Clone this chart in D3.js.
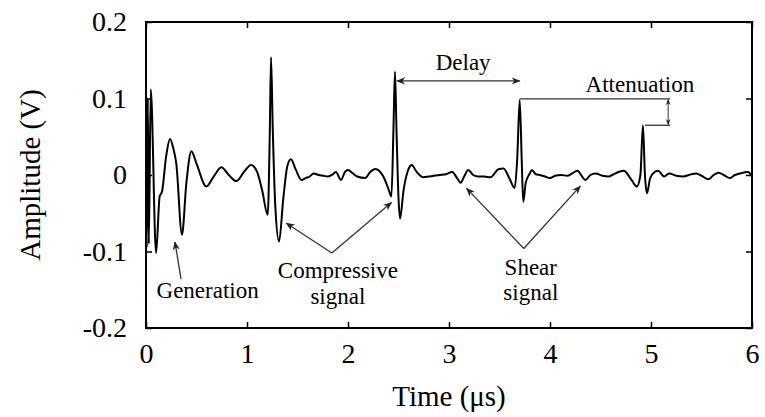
<!DOCTYPE html>
<html>
<head>
<meta charset="utf-8">
<script src="https://cdn.jsdelivr.net/npm/d3@7"></script>
<style>
  body { margin: 0; background: #fff; }
  text { font-family: "Liberation Serif", "Times New Roman", serif; }
</style>
</head>
<body>
<svg width="765" height="417"></svg>
<script>

// signal: time (us), amplitude (V)
var times = [0, 0.008, 0.018, 0.028, 0.047, 0.10, 0.135, 0.158, 0.20, 0.238, 0.27, 0.30, 0.356, 0.40, 0.449, 0.50,
    0.597, 0.67, 0.746, 0.82, 0.894, 0.97, 1.04, 1.10, 1.15, 1.205, 1.225, 1.238, 1.255, 1.28, 1.317, 1.36,
    1.40, 1.435, 1.48, 1.54, 1.58, 1.62, 1.66, 1.71, 1.76, 1.80, 1.85, 1.88, 1.93, 1.97, 2.00, 2.05, 2.09,
    2.17, 2.22, 2.27, 2.35, 2.40, 2.43, 2.45, 2.465, 2.48, 2.50, 2.515, 2.55, 2.60, 2.63, 2.68, 2.745, 2.80,
    2.85, 2.91, 2.97, 3.03, 3.08, 3.115, 3.15, 3.19, 3.24, 3.29, 3.35, 3.41, 3.49, 3.54, 3.60, 3.65, 3.675,
    3.70, 3.72, 3.735, 3.76, 3.80, 3.82, 3.86, 3.90, 3.95, 4.00, 4.05, 4.11, 4.17, 4.22, 4.27, 4.35, 4.40,
    4.45, 4.52, 4.58, 4.63, 4.68, 4.73, 4.80, 4.86, 4.895, 4.92, 4.94, 4.96, 4.99, 5.02, 5.07, 5.13, 5.18,
    5.25, 5.32, 5.40, 5.45, 5.50, 5.57, 5.62, 5.67, 5.72, 5.78, 5.83, 5.88, 5.96, 6.0];
var amps = [0, -0.095, 0.10, -0.09, 0.112, -0.102, -0.028, -0.022, 0.025, 0.047, 0.035, 0.015, -0.078, -0.01, 0.031, 0.015,
    -0.015, -0.002, 0.010, 0.0, -0.008, 0.004, 0.013, 0.004, -0.02, -0.052, 0.05, 0.154, 0.06, -0.04, -0.087, -0.03,
    0.012, 0.0205, 0.008, -0.0065, -0.004, -0.002, 0.002, 0, -0.001, -0.002, 0.001, 0.004, -0.0065, 0.004, 0.0065, 0.002, -0.002,
    -0.004, 0.004, 0.008, -0.002, -0.018, -0.028, 0.06, 0.135, 0.06, -0.03, -0.057, -0.02, 0.008, 0.013, 0.004, -0.003, -0.002,
    -0.001, 0, 0.001, 0.004, -0.004, -0.01, -0.002, 0.0065, 0.0, -0.002, -0.002, -0.003, 0.0075, 0.0085, -0.005, -0.017, 0.02,
    0.098, 0.02, -0.035, -0.01, 0.002, 0.0065, 0.001, 0, -0.002, -0.004, -0.001, 0, -0.001, 0.002, 0.0056, -0.0065, 0.0,
    0.002, -0.001, -0.002, 0.001, 0.004, 0.0056, -0.005, -0.015, 0.0, 0.065, 0.0, -0.024, -0.005, 0.002, 0.0056, -0.002, 0.002,
    -0.001, -0.002, 0.001, 0.002, -0.001, -0.0056, 0.0, 0.003, 0.0, -0.004, 0.0, 0.002, 0.004, -0.002];

var xTicks = [0, 1, 2, 3, 4, 5, 6];
var yTicks = [-0.2, -0.1, 0, 0.1, 0.2];
var yTickLabels = ["-0.2", "-0.1", "0", "0.1", "0.2"];

// annotation labels, in data coordinates
var labels = [
    {text: "Generation", t: 0.61, v: -0.161},
    {text: "Compressive", t: 1.90, v: -0.134},
    {text: "signal", t: 1.90, v: -0.168},
    {text: "Shear", t: 3.81, v: -0.131},
    {text: "signal", t: 3.81, v: -0.164},
    {text: "Delay", t: 3.14, v: 0.137},
    {text: "Attenuation", t: 4.89, v: 0.108}
];
// pointer lines (polylines in data coords)
var pointers = [
    [[0.347, -0.136], [0.287, -0.0876]],
    [[1.84, -0.102], [1.39, -0.063]],
    [[1.84, -0.102], [2.43, -0.036]],
    [[3.74, -0.096], [3.175, -0.0175]],
    [[3.74, -0.096], [4.30, -0.0145]]
];

var svg = d3.select("svg"),
    margin = {top: 22, right: 13, bottom: 89, left: 146},
    width = +svg.attr("width") - margin.left - margin.right,
    height = +svg.attr("height") - margin.top - margin.bottom;

var x = d3.scaleLinear().domain([0, 6]).range([0, width]),
    y = d3.scaleLinear().domain([-0.2, 0.2]).range([height, 0]);

var defs = svg.append("defs");
defs.append("marker")
    .attr("id", "head")
    .attr("viewBox", "0 0 10 10")
    .attr("refX", 9).attr("refY", 5)
    .attr("markerWidth", 9).attr("markerHeight", 9)
    .attr("markerUnits", "userSpaceOnUse")
    .attr("orient", "auto-start-reverse")
    .append("path")
    .attr("d", "M0,1 L10,5 L0,9 L3,5 Z")
    .attr("fill", "#222");
defs.append("marker")
    .attr("id", "small")
    .attr("viewBox", "0 0 10 10")
    .attr("refX", 9).attr("refY", 5)
    .attr("markerWidth", 6).attr("markerHeight", 6)
    .attr("markerUnits", "userSpaceOnUse")
    .attr("orient", "auto-start-reverse")
    .append("path")
    .attr("d", "M0,1 L10,5 L0,9 L3,5 Z")
    .attr("fill", "#222");

var g = svg.append("g")
    .attr("transform", "translate(" + margin.left + "," + margin.top + ")");

// axes with inward ticks
g.append("g")
    .attr("transform", "translate(0," + height + ")")
    .call(d3.axisBottom(x).tickValues(xTicks).tickSizeInner(-6).tickSizeOuter(0).tickPadding(15)
        .tickFormat(d3.format("d")));
g.append("g")
    .call(d3.axisLeft(y).tickValues(yTicks).tickSizeInner(-6).tickSizeOuter(0).tickPadding(19)
        .tickFormat(function(d, i) { return yTickLabels[i]; }));
g.append("g")
    .call(d3.axisTop(x).tickValues(xTicks).tickSizeInner(-6).tickSizeOuter(0).tickFormat(""));
g.append("g")
    .attr("transform", "translate(" + width + ",0)")
    .call(d3.axisRight(y).tickValues(yTicks).tickSizeInner(-6).tickSizeOuter(0).tickFormat(""));

g.selectAll(".domain").remove();
g.selectAll(".tick line").attr("stroke", "#000").attr("stroke-width", 1.5);
g.selectAll(".tick text")
    .attr("font-family", "Liberation Serif")
    .attr("font-size", 28)
    .attr("fill", "#000");

g.append("rect")
    .attr("width", width).attr("height", height)
    .attr("fill", "none").attr("stroke", "#000").attr("stroke-width", 2);

// signal
var data = times.map(function(t, i) { return {t: t, v: amps[i]}; });
var line = d3.line()
    .x(function(d) { return x(d.t); })
    .y(function(d) { return y(d.v); })
    .curve(d3.curveMonotoneX);

g.append("path")
    .datum(data)
    .attr("fill", "none")
    .attr("stroke", "#000")
    .attr("stroke-width", 2)
    .attr("stroke-linejoin", "round")
    .attr("d", line);

// annotations
var pl = d3.line().x(function(d) { return x(d[0]); }).y(function(d) { return y(d[1]); });
g.selectAll(".pointer")
    .data(pointers)
    .enter().append("path")
    .attr("class", "pointer")
    .attr("fill", "none")
    .attr("stroke", "#333")
    .attr("stroke-width", 1.3)
    .attr("marker-end", "url(#head)")
    .attr("d", pl);

// delay double arrow between the compressive peaks
g.append("path")
    .attr("fill", "none").attr("stroke", "#333").attr("stroke-width", 1.3)
    .attr("marker-start", "url(#head)").attr("marker-end", "url(#head)")
    .attr("d", pl([[2.485, 0.123], [3.70, 0.123]]));

// attenuation bracket
g.append("path")
    .attr("fill", "none").attr("stroke", "#333").attr("stroke-width", 1.3)
    .attr("d", pl([[3.70, 0.0995], [5.19, 0.0995]]));
g.append("path")
    .attr("fill", "none").attr("stroke", "#333").attr("stroke-width", 1.3)
    .attr("d", pl([[4.94, 0.065], [5.19, 0.065]]));
g.append("path")
    .attr("fill", "none").attr("stroke", "#333").attr("stroke-width", 1)
    .attr("marker-start", "url(#small)").attr("marker-end", "url(#small)")
    .attr("d", pl([[5.17, 0.0985], [5.17, 0.066]]));

g.selectAll(".label")
    .data(labels)
    .enter().append("text")
    .attr("class", "label")
    .attr("x", function(d) { return x(d.t); })
    .attr("y", function(d) { return y(d.v); })
    .attr("text-anchor", "middle")
    .attr("font-size", 23)
    .attr("fill", "#000")
    .text(function(d) { return d.text; });

// axis titles
svg.append("text")
    .attr("x", margin.left + width / 2)
    .attr("y", 406)
    .attr("text-anchor", "middle")
    .attr("font-size", 29)
    .text("Time (\u03bcs)");
svg.append("text")
    .attr("transform", "translate(40," + (margin.top + height / 2) + ") rotate(-90)")
    .attr("text-anchor", "middle")
    .attr("font-size", 29)
    .text("Amplitude (V)");

</script>
</body>
</html>
